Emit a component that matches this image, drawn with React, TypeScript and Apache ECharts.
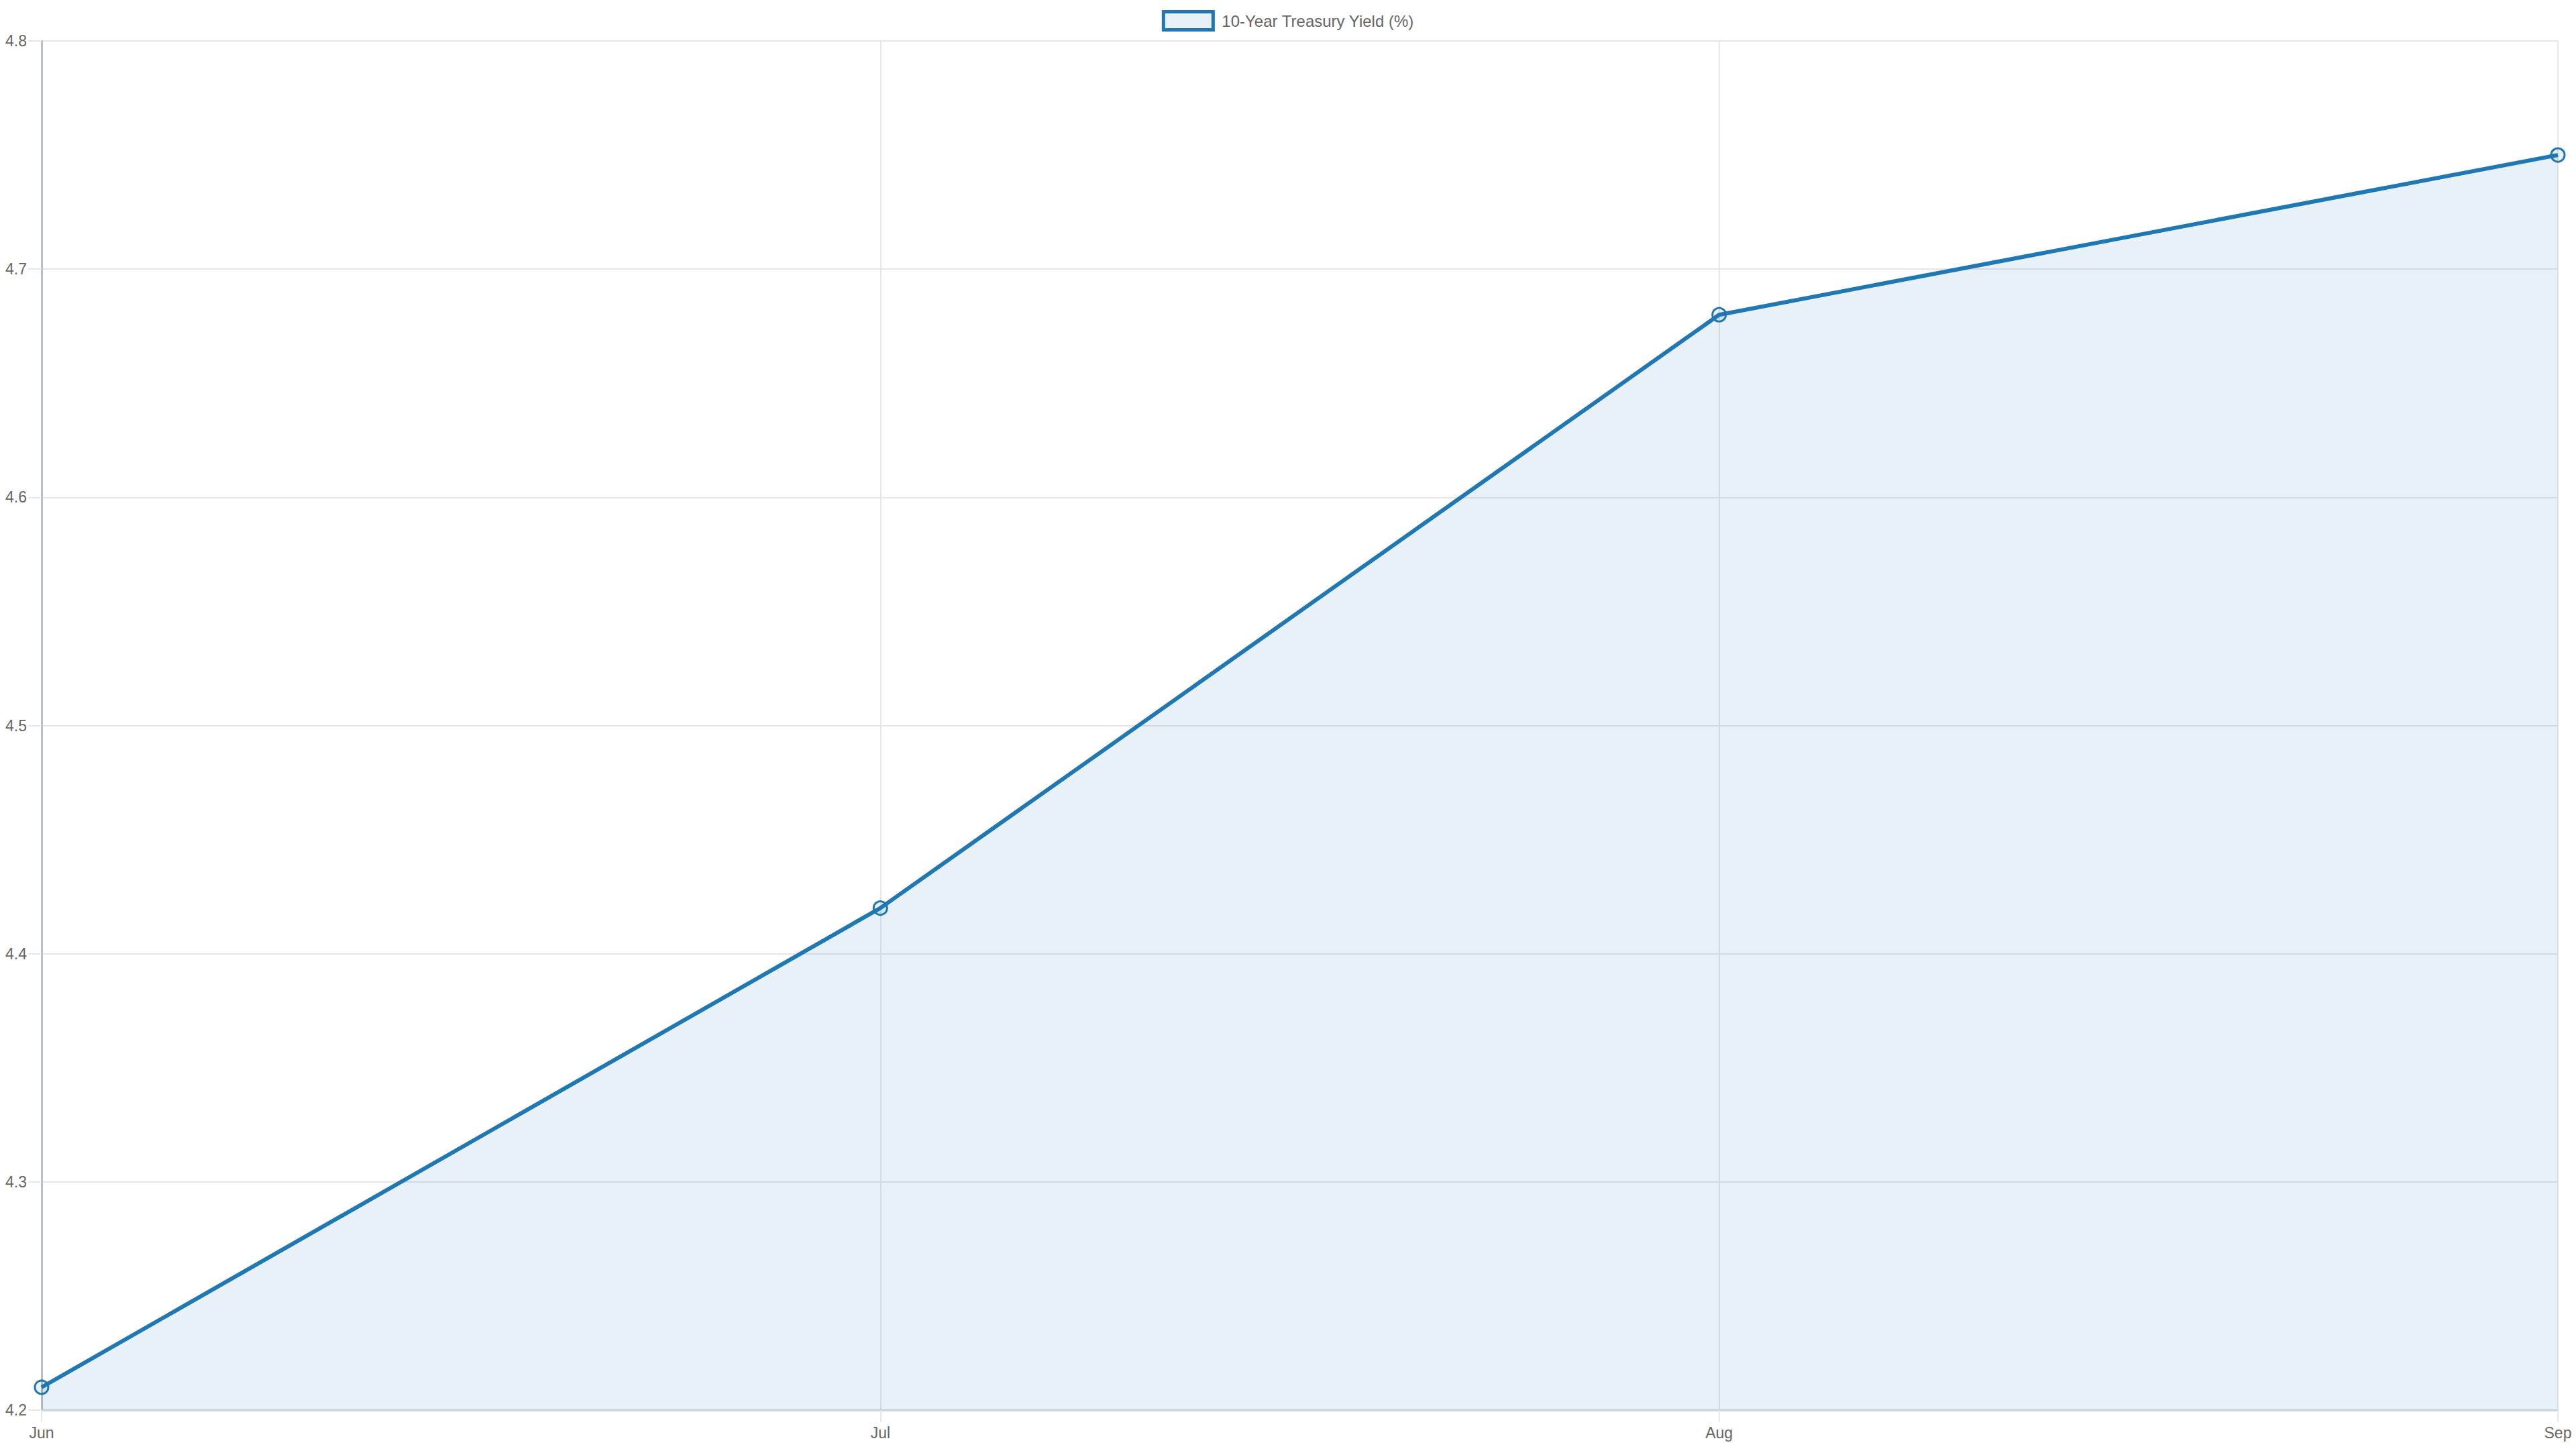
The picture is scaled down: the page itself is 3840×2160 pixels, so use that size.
import React, { useEffect, useRef } from 'react';
import * as echarts from 'echarts';

const months = ['Jun', 'Jul', 'Aug', 'Sep'];
const yieldValues = [4.21, 4.42, 4.68, 4.75];
const seriesName = '10-Year Treasury Yield (%)';

const lineColor = '#1f77b4';
const fillColor = 'rgba(31, 119, 180, 0.1)';
const gridColor = '#e6e6e6';
const textColor = '#666666';
const fontFamily = '"Liberation Sans", Arial, Helvetica, sans-serif';

function buildOption(): echarts.EChartsOption {
  return {
    animation: false,
    textStyle: { fontFamily },
    legend: {
      top: 10,
      left: 'center',
      itemWidth: 74,
      itemHeight: 27,
      itemGap: 14,
      icon: 'rect',
      textStyle: { color: textColor, fontSize: 24, fontFamily, padding: [0, 0, 0, 8] },
      data: [
        {
          name: seriesName,
          itemStyle: { color: fillColor, borderColor: lineColor, borderWidth: 5, opacity: 1 },
        },
      ],
    },
    grid: {
      left: 62,
      right: 27,
      top: 61,
      bottom: 58,
      containLabel: false,
    },
    xAxis: {
      type: 'category',
      data: months,
      boundaryGap: false,
      axisLine: { show: true, lineStyle: { color: '#cfd4da', width: 3 } },
      axisTick: { show: true, length: 18, lineStyle: { color: gridColor, width: 2 } },
      axisLabel: { color: textColor, fontSize: 23, margin: 22, fontFamily },
      splitLine: { show: true, lineStyle: { color: gridColor, width: 2 } },
    },
    yAxis: {
      type: 'value',
      min: 4.2,
      max: 4.8,
      interval: 0.1,
      axisLine: { show: true, lineStyle: { color: '#b8c0c8', width: 3 } },
      axisTick: { show: true, length: 20, lineStyle: { color: gridColor, width: 2 } },
      axisLabel: {
        color: textColor,
        fontSize: 23,
        margin: 22,
        fontFamily,
        formatter: (v: number) => v.toFixed(1),
      },
      splitLine: { show: true, lineStyle: { color: gridColor, width: 2 } },
    },
    series: [
      {
        name: seriesName,
        type: 'line',
        data: yieldValues,
        symbol: 'circle',
        symbolSize: 20,
        showSymbol: true,
        clip: false,
        lineStyle: { color: lineColor, width: 6 },
        itemStyle: { color: fillColor, borderColor: lineColor, borderWidth: 3 },
        areaStyle: { color: fillColor, opacity: 1, origin: 'start' },
        emphasis: { disabled: true },
      },
    ],
  };
}

export default function App() {
  const containerRef = useRef<HTMLDivElement | null>(null);

  useEffect(() => {
    if (!containerRef.current) {
      return undefined;
    }
    const chart = echarts.init(containerRef.current, undefined, { renderer: 'svg' });
    chart.setOption(buildOption());
    return () => {
      chart.dispose();
    };
  }, []);

  return (
    <div
      ref={containerRef}
      style={{ position: 'fixed', left: 0, top: 0, width: '100vw', height: '100vh', background: '#ffffff' }}
    />
  );
}
